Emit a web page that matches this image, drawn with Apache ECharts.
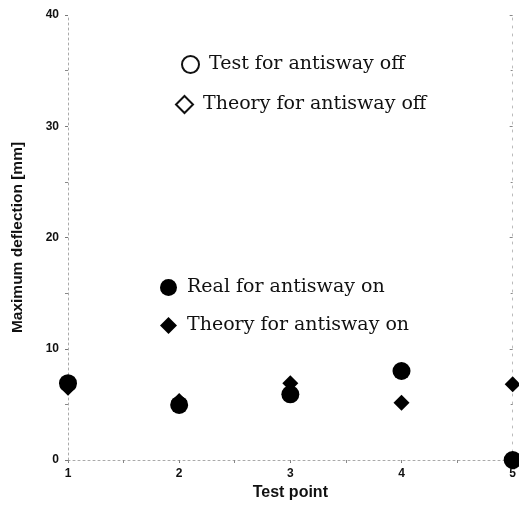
<!DOCTYPE html>
<html>
<head>
<meta charset="utf-8">
<script src="https://cdn.jsdelivr.net/npm/echarts@6/dist/echarts.min.js"></script>
<style>
  html, body { margin: 0; padding: 0; background: #fff; }
  #chart { width: 519px; height: 506px; }
</style>
</head>
<body>
<div id="chart"></div>
<script>
const testPoints = [1, 2, 3, 4, 5];
const realOn = [6.9, 4.95, 5.9, 8.0, 0.0];
const theoryOn = [6.5, 5.3, 6.9, 5.15, 6.8];
const testOff = [];
const theoryOff = [];
const yTicks = [0, 10, 20, 30, 40];

const chart = echarts.init(document.getElementById("chart"), null, { renderer: "canvas" });

const pairs = (xs, ys) => ys.map((y, i) => [xs[i], y]);
const faint = { color: "#aaa", width: 1, type: [2, 3] };
const legendText = { fontFamily: "DejaVu Serif", fontSize: 19, color: "#111", padding: [0, 0, 0, 5] };
const axisFont = { fontFamily: "Liberation Sans", fontWeight: "bold", color: "#111" };

// one legend per entry so each line can sit where it sits in the figure
const legendAt = (name, left, top, size) => ({
  data: [name], left, top, padding: 0,
  itemWidth: size, itemHeight: size,
  textStyle: legendText
});

chart.setOption({
  backgroundColor: "#fff",
  animation: false,
  grid: { left: 68, right: 3, top: 15, bottom: 44 },
  legend: [
    legendAt("Test for antisway off", 181, 55, 17),
    legendAt("Theory for antisway off", 175, 95, 17),
    legendAt("Real for antisway on", 160, 278, 17),
    legendAt("Theory for antisway on", 160, 316, 17)
  ],
  xAxis: [
    {
      type: "value",
      min: 1, max: 5, interval: 1,
      name: "Test point",
      nameLocation: "middle",
      nameGap: 25,
      nameTextStyle: { ...axisFont, fontSize: 16 },
      axisLine: { show: true, lineStyle: faint },
      axisTick: { show: true, length: 3, lineStyle: { color: "#777" } },
      minorTick: { show: true, splitNumber: 2, length: 3, lineStyle: { color: "#888" } },
      axisLabel: { ...axisFont, fontSize: 12, margin: 8 },
      splitLine: { show: false }
    },
    {
      type: "value", position: "top",
      min: 1, max: 5, interval: 1,
      axisLine: { show: false },
      axisTick: { show: true, inside: true, length: 2, lineStyle: { color: "#888" } },
      minorTick: { show: true, splitNumber: 2, length: 2, lineStyle: { color: "#888" } },
      axisLabel: { show: false },
      splitLine: { show: false }
    }
  ],
  yAxis: [
    {
      type: "value",
      min: 0, max: 40, interval: 10,
      name: "Maximum deflection [mm]",
      nameLocation: "middle",
      nameGap: 42,
      nameTextStyle: { ...axisFont, fontSize: 15.5 },
      axisLine: { show: true, lineStyle: faint },
      axisTick: { show: true, length: 3, lineStyle: { color: "#777" } },
      minorTick: { show: true, splitNumber: 2, length: 3, lineStyle: { color: "#888" } },
      axisLabel: {
        ...axisFont, fontSize: 12, margin: 9,
        formatter: v => (yTicks.includes(v) ? String(v) : "")
      },
      splitLine: { show: false }
    },
    {
      type: "value", position: "right",
      min: 0, max: 40, interval: 10,
      axisLine: { show: true, lineStyle: { color: "#bbb", width: 1, type: [2, 6] } },
      axisTick: { show: true, inside: true, length: 3, lineStyle: { color: "#888" } },
      minorTick: { show: true, splitNumber: 2, length: 2, lineStyle: { color: "#888" } },
      axisLabel: { show: false },
      splitLine: { show: false }
    }
  ],
  series: [
    {
      name: "Test for antisway off", type: "scatter", symbol: "circle", symbolSize: 17,
      itemStyle: { color: "#fff", borderColor: "#111", borderWidth: 1.5, opacity: 1 },
      data: pairs(testPoints, testOff)
    },
    {
      name: "Theory for antisway off", type: "scatter", symbol: "diamond", symbolSize: 17,
      itemStyle: { color: "#fff", borderColor: "#111", borderWidth: 1.5, opacity: 1 },
      data: pairs(testPoints, theoryOff)
    },
    {
      name: "Theory for antisway on", type: "scatter", symbol: "diamond", symbolSize: 16,
      itemStyle: { color: "#000", opacity: 1 },
      clip: false,
      data: pairs(testPoints, theoryOn)
    },
    {
      name: "Real for antisway on", type: "scatter", symbol: "circle", symbolSize: 18,
      itemStyle: { color: "#000", opacity: 1 },
      clip: false,
      data: pairs(testPoints, realOn)
    }
  ]
});
</script>
</body>
</html>
